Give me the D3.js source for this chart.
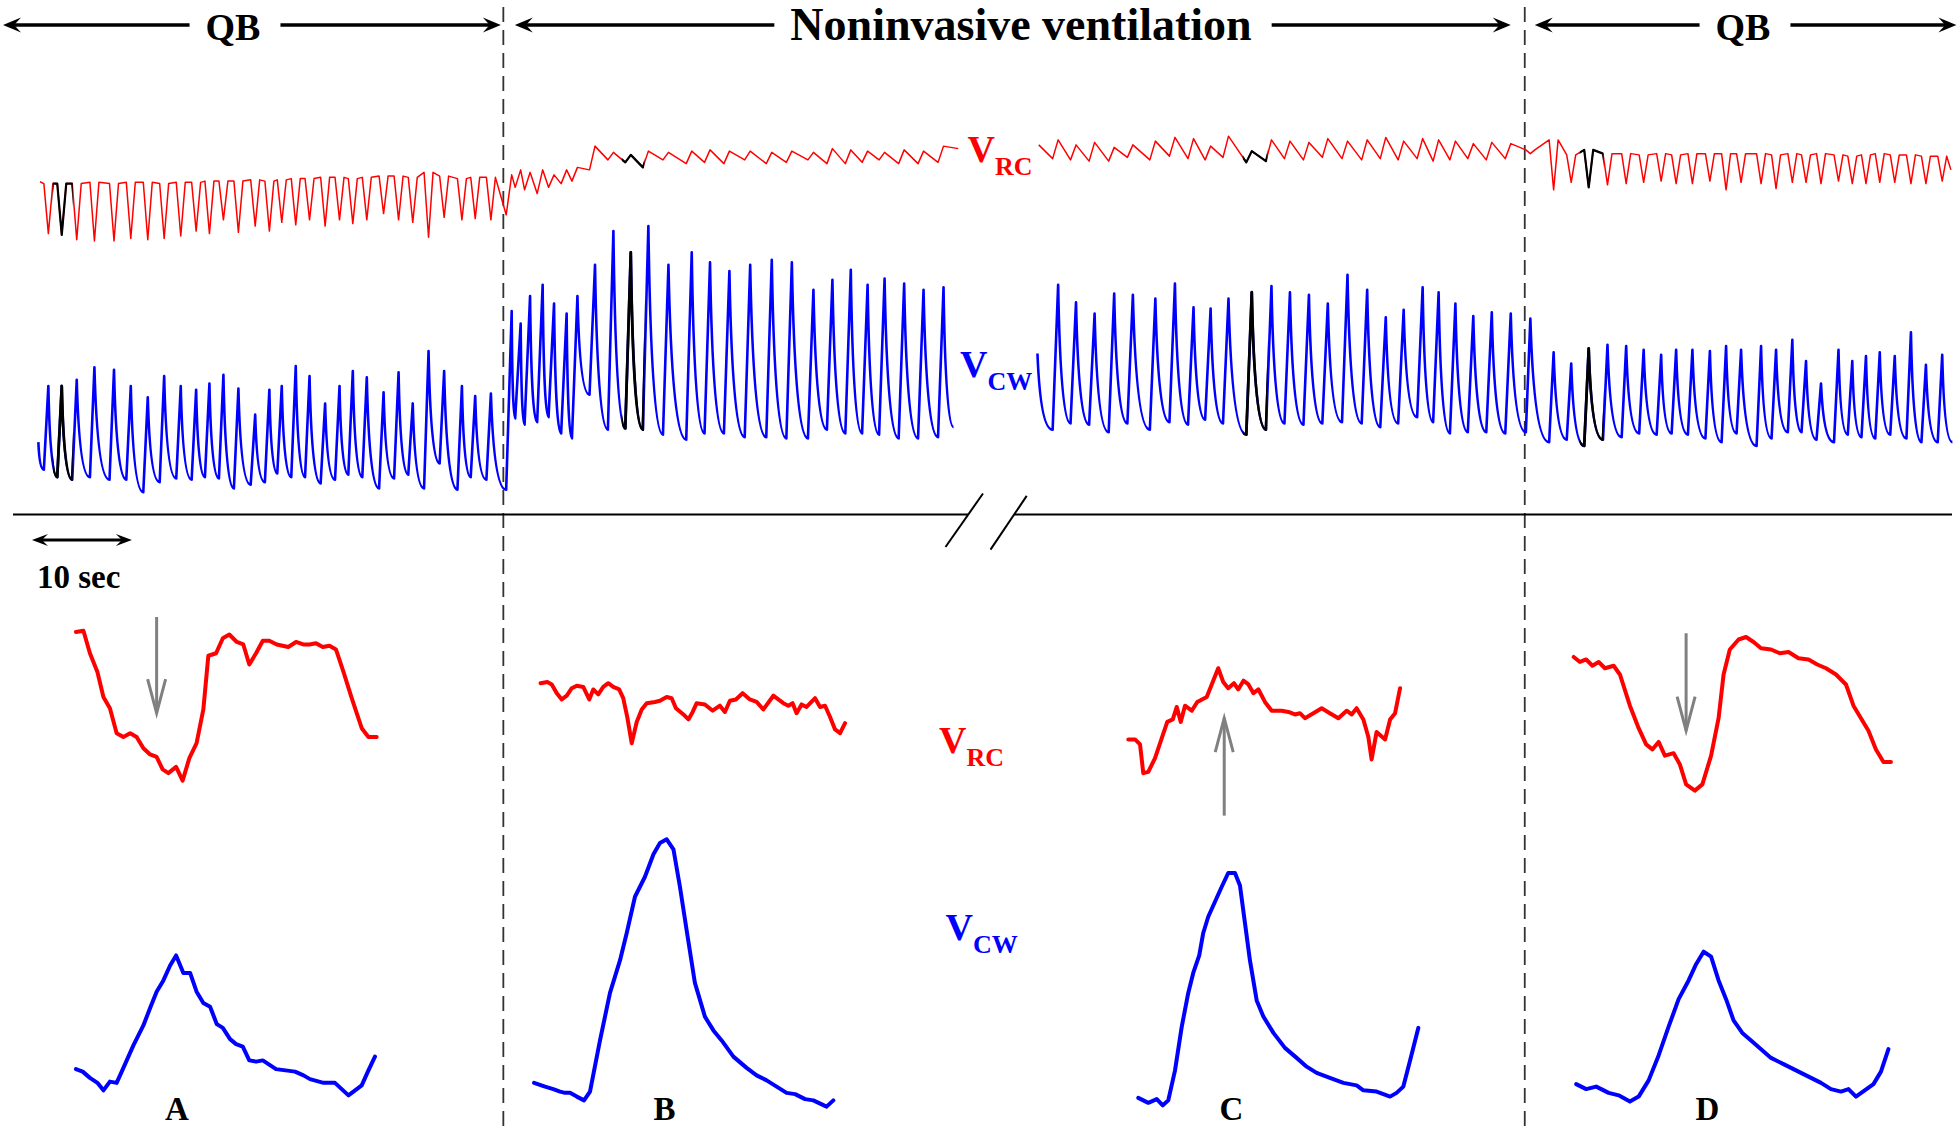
<!DOCTYPE html>
<html><head><meta charset="utf-8">
<script src="https://cdn.jsdelivr.net/npm/d3@7"></script>
<style>html,body{margin:0;padding:0;background:#fff;}svg{display:block;}</style>
</head><body>
<svg id="chart" width="1959" height="1128"></svg>
<script>
// ================= DATA =================
// phases (seconds)
const phaseNames = ["QB", "Noninvasive ventilation", "QB"];
const phaseBounds = [0, 50.375, 152.6, 196];
const scaleBarSeconds = 10;

// ---- Top recording, segment 1 (QB -> NIV) ----
// breath (V_CW peak) times, seconds
const seg1Times = [4.84, 6.18, 7.68, 9.45, 11.41, 13.09, 14.79, 16.43, 18.09, 19.63, 20.96, 22.36, 23.86, 25.54, 26.96, 28.20, 29.60, 30.98, 32.54, 33.98, 35.31, 36.71, 38.39, 39.89, 41.31, 42.89, 44.45, 46.23, 47.56, 49.13,
  51.21, 52.11, 53.05, 54.31, 55.45, 56.71, 57.79, 59.55, 61.39, 63.13, 64.89, 66.90, 69.23, 71.06, 73.00, 75.08, 77.24, 79.25, 81.41, 83.31, 85.15, 86.83, 88.53, 90.49, 92.43, 94.43];
const seg1CwPeak = [91, 91, 96, 106, 104, 91, 82, 99, 91, 88, 93, 100, 89, 68, 88, 91, 107, 99, 77, 91, 103, 98, 86, 102, 77, 119, 103, 91, 83, 85,
  151, 141, 163, 172, 157, 149, 163, 188, 215, 198, 219, 188, 198, 190, 183, 188, 192, 190, 168, 176, 184, 172, 177, 173, 168, 170];
const seg1CwTrough = [24, 18, 16, 18, 16, 16, 6, 14, 17, 16, 18, 17, 9, 12, 14, 21, 18, 18, 13, 16, 20, 18, 9, 17, 20, 9, 29, 8, 18, 16,
  8, 65, 60, 62, 66, 53, 49, 84, 56, 57, 56, 52, 48, 53, 53, 50, 50, 49, 49, 56, 53, 53, 52, 49, 49, 50];
const seg1RcTop = [53, 53, 53, 54, 53, 54, 54, 53, 54, 54, 55, 55, 55, 56, 55, 56, 57, 57, 58, 58, 57, 58, 59, 59, 58, 62, 59, 57, 58, 58,
  60, 64, 62, 64, 60, 64, 66, 83, 78, 76, 79, 78, 79, 80, 79, 79, 78, 79, 78, 81, 80, 79, 78, 80, 79, 83];
const seg1RcDip = [13, 12, 8, 7, 7, 9, 8, 9, 11, 15, 13, 24, 14, 19, 15, 22, 20, 24, 19, 24, 21, 24, 29, 24, 22, 10, 26, 24, 25, 24,
  28, 50, 48, 45, 50, 53, 55, 64, 72, 70, 66, 72, 69, 70, 69, 72, 69, 70, 72, 69, 69, 70, 72, 69, 69, 70];
const seg1Ends = {cwStart: [3.84, 46], cwEnd: [95.43, 58], rcStart: [4.0, 54.5], rcEnd: [95.9, 81]};
const seg1Highlight = [1, 39];

// ---- Top recording, segment 2 (NIV -> QB) ----
const seg2Times = [105.90, 107.69, 109.55, 111.51, 113.38, 115.63, 117.59, 119.45, 121.16, 122.95, 125.28, 127.25, 129.10, 131.00, 132.89, 134.86, 136.83, 138.69, 140.48, 142.38, 143.98, 145.66, 147.45, 149.30, 151.20, 153.16,
  155.49, 157.25, 159.00, 160.88, 162.75, 164.50, 166.25, 167.75, 169.38, 171.13, 172.75, 174.25, 176.25, 177.75, 179.38, 180.75, 182.25, 184.00, 185.38, 186.75, 188.13, 189.63, 191.25, 192.75, 194.38];
const seg2CwPeak = [172, 158, 149, 165, 164, 161, 173, 154, 153, 161, 166, 171, 166, 164, 157, 180, 168, 146, 152, 170, 166, 157, 147, 150, 149, 145,
  118, 109, 121, 124, 123, 120, 116, 120, 120, 119, 123, 120, 123, 120, 128, 111, 93, 120, 111, 115, 118, 115, 134, 108, 116];
const seg2CwTrough = [56, 61, 60, 54, 61, 56, 62, 60, 64, 61, 52, 56, 61, 60, 61, 62, 61, 58, 61, 66, 62, 53, 54, 54, 53, 54,
  46, 48, 43, 48, 50, 53, 52, 53, 52, 49, 46, 53, 43, 49, 54, 54, 48, 46, 52, 50, 49, 52, 49, 46, 46];
const seg2RcTop = [88, 84, 86, 82, 84, 87, 90, 89, 83, 91, 79, 88, 87, 86, 89, 87, 88, 90, 87, 89, 88, 87, 85, 86, 85, 80,
  88, 76, 80, 77, 77, 76, 77, 76, 77, 77, 77, 77, 77, 76, 77, 76, 77, 76, 75, 76, 77, 76, 76, 75, 75];
const seg2RcDip = [73, 72, 71, 71, 74, 72, 75, 73, 72, 74, 70, 71, 73, 72, 74, 73, 72, 73, 72, 73, 71, 72, 73, 72, 73, 77,
  48, 54, 50, 52, 53, 54, 55, 53, 53, 55, 48, 54, 53, 49, 54, 54, 53, 55, 53, 53, 54, 54, 53, 53, 55];
const seg2Ends = {cwStart: [103.83, 117], cwEnd: [195.4, 46], rcStart: [103.96, 84], rcEnd: [195.25, 64]};
const seg2Highlight = [10, 28];

// ---- Bottom: single breaths A-D, [time ms, volume AU] ----
const panelLabels = ["A", "B", "C", "D"];
const panelA_RC = [[4,134],[34,135],[60,117],[90,102],[114,82],[140,73],[167,53],[194,50],[221,53],[247,50],[274,41],[301,36],[327,34],[351,24],[374,21],[405,26],[431,15],[458,33],[487,45],[514,72],[534,115],[565,117],[592,129],[618,132],[648,126],[674,124],[698,108],[725,117],[752,127],[778,127],[808,124],[854,122],[885,126],[914,124],[939,124],[965,125],[992,122],[1019,123],[1045,120],[1075,102],[1108,81],[1148,57],[1175,50],[1208,50]];
const panelA_CW = [[4,34],[31,32],[60,27],[90,23],[114,17],[140,24],[167,23],[194,35],[234,53],[274,69],[301,83],[327,96],[354,105],[381,117],[405,125],[434,111],[461,111],[487,96],[514,87],[541,84],[568,70],[592,67],[621,58],[645,54],[672,52],[698,41],[725,40],[752,41],[805,34],[881,32],[915,29],[941,26],[995,23],[1041,23],[1095,13],[1148,21],[1175,33],[1201,44]];
const panelB_RC = [[29,93],[56,94],[74,92],[94,85],[114,80],[134,83],[154,89],[174,91],[200,90],[224,80],[240,88],[260,84],[280,90],[300,93],[320,90],[344,88],[360,81],[376,66],[394,45],[414,62],[434,72],[454,77],[487,78],[507,79],[534,82],[554,81],[571,73],[601,68],[621,64],[638,70],[654,77],[687,76],[718,71],[747,75],[767,70],[787,79],[811,80],[838,85],[867,80],[894,78],[921,72],[961,83],[1001,77],[1021,75],[1038,77],[1054,69],[1074,76],[1094,74],[1128,81],[1148,74],[1168,75],[1188,66],[1208,56],[1228,53],[1248,61]];
const panelB_CW = [[3,23],[47,20],[80,18],[107,16],[127,15],[147,15],[174,12],[203,9],[227,16],[267,57],[307,95],[347,121],[374,143],[407,172],[447,188],[481,206],[507,215],[534,218],[561,210],[587,180],[614,145],[647,103],[687,76],[721,65],[754,57],[801,44],[854,35],[894,29],[934,25],[974,20],[1014,15],[1048,14],[1088,10],[1121,9],[1174,4],[1201,9]];
const panelC_RC = [[2,48],[29,48],[49,44],[62,21],[82,22],[109,33],[136,49],[158,62],[180,64],[196,74],[212,62],[229,75],[256,71],[278,78],[316,82],[336,92],[362,105],[382,94],[402,89],[425,93],[442,88],[463,95],[483,92],[503,85],[523,88],[549,78],[576,71],[616,71],[643,70],[669,68],[689,69],[709,65],[743,69],[776,73],[809,69],[843,65],[876,71],[896,68],[916,73],[943,64],[963,50],[976,32],[996,54],[1030,48],[1050,64],[1070,69],[1090,89]];
const panelC_CW = [[42,11],[82,7],[116,10],[140,5],[162,9],[189,33],[216,68],[242,95],[262,111],[286,125],[302,143],[322,156],[349,168],[376,180],[402,191],[429,191],[449,181],[469,151],[489,121],[516,89],[543,76],[583,63],[629,51],[676,43],[716,36],[756,31],[809,27],[863,23],[916,21],[943,17],[996,16],[1050,12],[1076,15],[1103,20],[1130,41],[1163,67]];
const panelD_RC = [[0,114],[25,110],[50,112],[75,107],[100,110],[125,105],[160,107],[185,100],[225,75],[260,57],[290,44],[315,40],[340,46],[365,35],[400,37],[425,28],[450,12],[485,7],[515,12],[550,35],[580,65],[600,100],[625,120],[660,128],[690,130],[720,126],[750,121],[790,120],[825,117],[860,118],[900,113],[940,112],[975,108],[1010,105],[1050,100],[1090,92],[1120,75],[1150,65],[1180,55],[1210,40],[1240,30],[1270,30]];
const panelD_CW = [[10,22],[50,18],[90,20],[140,15],[180,13],[225,8],[260,12],[300,25],[340,45],[380,68],[420,90],[460,105],[490,118],[520,128],[550,124],[580,105],[610,90],[640,73],[675,63],[710,57],[750,50],[790,43],[840,38],[890,33],[940,28],[990,23],[1030,18],[1070,16],[1100,18],[1130,12],[1165,17],[1200,22],[1230,32],[1260,50]];
// arrows marking the breath phase [panel, time ms, from volume, to volume] (RC scale)
const panelArrows = [["A", 327, 146, 69], ["C", 386, -13, 65], ["D", 450, 133, 55]];

// ================= LAYOUT / STYLE =================
const W = 1959, H = 1128;
const RED = "#ff0000", BLUE = "#0000ff", GRAY = "#808080";
const FONT = "'Liberation Serif','Times New Roman',serif";
const shape = {riseQB: 0.45, riseNIV: 0.55, dipHalf: 0.45, hlBefore: 0.9, hlAfter: 0.4};
const header = {y: 25, base: 40, centers: [233, 1021, 1743], sizes: [38, 46, 38], padStart: [3, 11.5, 10], padEnd: [2.5, 14, 2], gapL: 16, gapR: 20};
const panelX0 = {A: 74.94, B: 533.3, C: 1127.8, D: 1573.7};
const panelLabelX = {A: 177, B: 664.5, C: 1231.5, D: 1707.4};

const svg = d3.select("#chart");
svg.append("rect").attr("width", W).attr("height", H).attr("fill", "#fff");
const defs = svg.append("defs");

// scales
const xTop = d3.scaleLinear().domain([0, 196]).range([0, 1958.4]);
const yRC = d3.scaleLinear().domain([0, 100]).range([249.8, 124.9]);
const yCW = d3.scaleLinear().domain([0, 250]).range([499.6, 187.35]);
const yRCb = d3.scaleLinear().domain([0, 150]).range([799.4, 612.0]);
const yCWb = d3.scaleLinear().domain([0, 230]).range([1111.6, 824.3]);
const xPanel = {};
panelLabels.forEach(p => { xPanel[p] = d3.scaleLinear().domain([0, 1250]).range([panelX0[p], panelX0[p] + 312.25]); });

function phaseOf(t) { return t < phaseBounds[1] ? 0 : (t < phaseBounds[2] ? 1 : 2); }
function riseFor(t) { return phaseOf(t) === 1 ? shape.riseNIV : shape.riseQB; }

// arrowhead helper
function arrowHead(g, x, y, dir, L, Hh, color) {
  const p = d3.path();
  p.moveTo(x, y);
  p.lineTo(x - dir * L, y - Hh);
  p.lineTo(x - dir * L * 0.62, y);
  p.lineTo(x - dir * L, y + Hh);
  p.closePath();
  g.append("path").attr("d", p.toString()).attr("fill", color || "#000");
}

// ---------- header ----------
const hg = svg.append("g");
phaseNames.forEach((name, i) => {
  const cx = header.centers[i];
  const txt = hg.append("text").attr("x", cx).attr("y", header.base).attr("text-anchor", "middle")
    .attr("font-family", FONT).attr("font-weight", "bold").attr("font-size", header.sizes[i]).attr("fill", "#000").text(name);
  const tw = txt.node().getComputedTextLength();
  const xa = xTop(phaseBounds[i]) + header.padStart[i];
  const xb = xTop(phaseBounds[i + 1]) - header.padEnd[i];
  const l1 = cx - tw / 2 - header.gapL, r1 = cx + tw / 2 + header.gapR;
  hg.append("line").attr("x1", xa + 10).attr("x2", l1).attr("y1", header.y).attr("y2", header.y).attr("stroke", "#000").attr("stroke-width", 3.6);
  hg.append("line").attr("x1", r1).attr("x2", xb - 10).attr("y1", header.y).attr("y2", header.y).attr("stroke", "#000").attr("stroke-width", 3.6);
  arrowHead(hg, xa, header.y, -1, 18, 7.5);
  arrowHead(hg, xb, header.y, 1, 18, 7.5);
});

// dashed phase boundaries
[phaseBounds[1], phaseBounds[2]].forEach(t => {
  svg.append("line").attr("x1", xTop(t)).attr("x2", xTop(t)).attr("y1", 7).attr("y2", H)
    .attr("stroke", "#333").attr("stroke-width", 1.8).attr("stroke-dasharray", "15,8");
});

// ---------- top traces ----------
function cwPathString(times, peak, trough, ends) {
  const p = d3.path();
  const X = xTop, Y = yCW;
  const n = times.length;
  const tT = times.map(t => t - riseFor(t));
  function decay(t0, v0, t1, v1) {
    const x0 = X(t0), y0 = Y(v0), x1 = X(t1), y1 = Y(v1), D = x1 - x0;
    p.bezierCurveTo(x0 + 0.12 * D, y0 + 0.6 * (y1 - y0), x0 + 0.42 * D, y1, x1, y1);
  }
  p.moveTo(X(ends.cwStart[0]), Y(ends.cwStart[1]));
  decay(ends.cwStart[0], ends.cwStart[1], tT[0], trough[0]);
  for (let i = 0; i < n; i++) {
    p.lineTo(X(times[i]), Y(peak[i]));
    if (i < n - 1) decay(times[i], peak[i], tT[i + 1], trough[i + 1]);
    else decay(times[i], peak[i], ends.cwEnd[0], ends.cwEnd[1]);
  }
  return p.toString();
}
function rcPoints(times, top, dip, ends) {
  const pts = [ends.rcStart];
  times.forEach((t, i) => {
    if (phaseOf(t) === 1) {
      pts.push([t - shape.riseNIV, dip[i]]);
      pts.push([t, top[i]]);
    } else {
      pts.push([t - shape.dipHalf, top[i]]);
      pts.push([t, dip[i]]);
      pts.push([t + shape.dipHalf, top[i]]);
    }
  });
  pts.push(ends.rcEnd);
  return pts;
}
const rcLine = d3.line().x(d => xTop(d[0])).y(d => yRC(d[1]));

const segments = [
  {times: seg1Times, cwPeak: seg1CwPeak, cwTrough: seg1CwTrough, rcTop: seg1RcTop, rcDip: seg1RcDip, ends: seg1Ends, hl: seg1Highlight},
  {times: seg2Times, cwPeak: seg2CwPeak, cwTrough: seg2CwTrough, rcTop: seg2RcTop, rcDip: seg2RcDip, ends: seg2Ends, hl: seg2Highlight}
];
const tg = svg.append("g");
let clipId = 0;
segments.forEach(s => {
  const cwD = cwPathString(s.times, s.cwPeak, s.cwTrough, s.ends);
  const rcD = rcLine(rcPoints(s.times, s.rcTop, s.rcDip, s.ends));
  tg.append("path").attr("d", rcD).attr("fill", "none").attr("stroke", RED).attr("stroke-width", 1.5).attr("stroke-linejoin", "round");
  tg.append("path").attr("d", cwD).attr("fill", "none").attr("stroke", BLUE).attr("stroke-width", 2.6).attr("stroke-linejoin", "round");
  s.hl.forEach(k => {
    const id = "hl" + (clipId++);
    const xa = xTop(s.times[k] - shape.hlBefore), xb = xTop(s.times[k + 1] - shape.hlAfter);
    defs.append("clipPath").attr("id", id).append("rect").attr("x", xa).attr("y", 0).attr("width", xb - xa).attr("height", 500);
    tg.append("path").attr("d", rcD).attr("fill", "none").attr("stroke", "#000").attr("stroke-width", 2.2).attr("stroke-linejoin", "round").attr("clip-path", `url(#${id})`);
    tg.append("path").attr("d", cwD).attr("fill", "none").attr("stroke", "#000").attr("stroke-width", 2.8).attr("stroke-linejoin", "round").attr("clip-path", `url(#${id})`);
  });
});

// V labels
function vLabel(x, y, sub, color) {
  const t = svg.append("text").attr("x", x).attr("y", y).attr("font-family", FONT).attr("font-weight", "bold").attr("fill", color);
  t.append("tspan").attr("font-size", 38).text("V");
  t.append("tspan").attr("font-size", 26).attr("dy", 13).text(sub);
}
vLabel(967.6, 161.6, "RC", RED);
vLabel(960, 376.6, "CW", BLUE);
vLabel(939, 753, "RC", RED);
vLabel(945.5, 940, "CW", BLUE);

// ---------- separator with break ----------
const sepY = 514.6;
svg.append("line").attr("x1", 13).attr("x2", 968).attr("y1", sepY).attr("y2", sepY).attr("stroke", "#000").attr("stroke-width", 2);
svg.append("line").attr("x1", 1014).attr("x2", 1952).attr("y1", sepY).attr("y2", sepY).attr("stroke", "#000").attr("stroke-width", 2);
[[945.5, 547, 983, 493.5], [990.5, 549.6, 1026.7, 495.9]].forEach(s => {
  svg.append("line").attr("x1", s[0]).attr("y1", s[1]).attr("x2", s[2]).attr("y2", s[3]).attr("stroke", "#000").attr("stroke-width", 2);
});

// ---------- 10 sec scale bar ----------
const sbT0 = 3.2, sbY = 540;
const sbx0 = xTop(sbT0), sbx1 = xTop(sbT0 + scaleBarSeconds);
svg.append("line").attr("x1", sbx0 + 8).attr("x2", sbx1 - 8).attr("y1", sbY).attr("y2", sbY).attr("stroke", "#000").attr("stroke-width", 3);
arrowHead(svg, sbx0, sbY, -1, 16, 6);
arrowHead(svg, sbx1, sbY, 1, 16, 6);
svg.append("text").attr("x", 37).attr("y", 588).attr("font-family", FONT).attr("font-weight", "bold").attr("font-size", 33).attr("fill", "#000").text(scaleBarSeconds + " sec");

// ---------- bottom panels ----------
const panelData = {A: [panelA_RC, panelA_CW], B: [panelB_RC, panelB_CW], C: [panelC_RC, panelC_CW], D: [panelD_RC, panelD_CW]};
const bg = svg.append("g");
panelLabels.forEach(p => {
  const [rc, cw] = panelData[p];
  const lr = d3.line().x(d => xPanel[p](d[0])).y(d => yRCb(d[1]));
  const lc = d3.line().x(d => xPanel[p](d[0])).y(d => yCWb(d[1]));
  bg.append("path").attr("d", lr(rc)).attr("fill", "none").attr("stroke", RED).attr("stroke-width", 4).attr("stroke-linejoin", "round").attr("stroke-linecap", "round");
  bg.append("path").attr("d", lc(cw)).attr("fill", "none").attr("stroke", BLUE).attr("stroke-width", 4).attr("stroke-linejoin", "round").attr("stroke-linecap", "round");
  bg.append("text").attr("x", panelLabelX[p]).attr("y", 1120).attr("text-anchor", "middle")
    .attr("font-family", FONT).attr("font-weight", "bold").attr("font-size", 33).attr("fill", "#000").text(p);
});
panelArrows.forEach(a => {
  const [p, t, v0, v1] = a;
  const x = xPanel[p](t), y0 = yRCb(v0), y1 = yRCb(v1);
  const dir = y1 > y0 ? 1 : -1;
  bg.append("line").attr("x1", x).attr("x2", x).attr("y1", y0).attr("y2", y1).attr("stroke", GRAY).attr("stroke-width", 3);
  bg.append("path").attr("d", `M${x - 9},${y1 - dir * 34}L${x},${y1}L${x + 9},${y1 - dir * 34}`)
    .attr("fill", "none").attr("stroke", GRAY).attr("stroke-width", 3).attr("stroke-linejoin", "miter");
});
</script>
</body></html>
